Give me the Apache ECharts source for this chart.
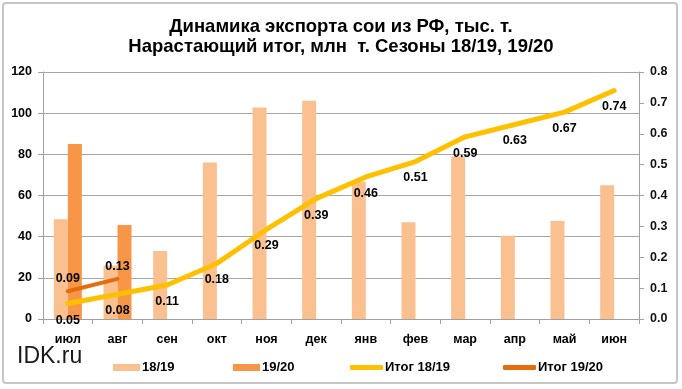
<!DOCTYPE html>
<html>
<head>
<meta charset="utf-8">
<script src="https://cdn.jsdelivr.net/npm/echarts@6/dist/echarts.min.js"></script>
<style>html,body{margin:0;padding:0;background:#fff;}#c{width:682px;height:389px;}</style>
</head>
<body>
<div id="c"></div>
<script>
var categories = ['июл','авг','сен','окт','ноя','дек','янв','фев','мар','апр','май','июн'];
var exp1819 = [48.5, 26, 33, 76, 102.7, 106, 66.7, 47, 79, 40.5, 47.6, 65];
var exp1920 = [85, 45.7, null, null, null, null, null, null, null, null, null, null];
var total1819 = [0.05, 0.08, 0.11, 0.18, 0.29, 0.39, 0.46, 0.51, 0.59, 0.63, 0.67, 0.74];
var total1920 = [0.09, 0.13, null, null, null, null, null, null, null, null, null, null];
var leftTicks = [0, 120, 20];
var rightTicks = [0, 0.8, 0.1];

var sans = "'Liberation Sans', Arial, sans-serif";
var chart = echarts.init(document.getElementById('c'));
function lg(name, left, icon, w, h) {
  return {
    data: [{name: name, icon: icon}], left: left, top: 356, itemWidth: w, itemHeight: h, itemGap: 0,
    textStyle: {fontFamily: sans, fontSize: 13, fontWeight: 'bold', color: '#000', padding: [0,0,0,-3]},
    selectedMode: false
  };
}
function fmt(p) { return p.value == null ? '' : p.value.toFixed(2); }
chart.setOption({
  animation: false,
  title: {
    text: 'Динамика экспорта сои из РФ, тыс. т.\nНарастающий итог, млн  т. Сезоны 18/19, 19/20',
    left: 'center', top: 12,
    textStyle: {fontFamily: sans, fontSize: 18.5, fontWeight: 'bold', color: '#000', lineHeight: 20}
  },
  graphic: [
    {type: 'rect', shape: {x: 3, y: 3, width: 674, height: 380, r: 3}, style: {fill: 'none', stroke: '#c6c6c6', lineWidth: 2}, silent: true},
    {type: 'text', left: 17, top: 345, style: {text: 'IDK.ru', fontFamily: sans, fontSize: 23, fill: '#1a1a1a'}}
  ],
  legend: [
    lg('18/19', 108, 'rect', 27, 7),
    lg('19/20', 228, 'rect', 27, 7),
    lg('Итог 18/19', 345, 'roundRect', 33, 5),
    lg('Итог 19/20', 498, 'roundRect', 33, 5)
  ],
  grid: {left: 43, right: 43, top: 72, bottom: 70},
  xAxis: {
    type: 'category', data: categories, boundaryGap: true,
    axisLine: {lineStyle: {color: '#a0a0a0', width: 1}},
    axisTick: {show: true, length: 5, lineStyle: {color: '#a0a0a0'}},
    axisLabel: {fontFamily: sans, fontSize: 12.5, fontWeight: 'bold', color: '#000', margin: 14}
  },
  yAxis: [
    {
      type: 'value', min: leftTicks[0], max: leftTicks[1], interval: leftTicks[2],
      axisLine: {show: true, lineStyle: {color: '#a0a0a0'}},
      axisTick: {show: true, length: 5, lineStyle: {color: '#a0a0a0'}},
      splitLine: {lineStyle: {color: '#a6a6a6', width: 1}},
      axisLabel: {fontFamily: sans, fontSize: 12.5, fontWeight: 'bold', color: '#000', margin: 11}
    },
    {
      type: 'value', min: rightTicks[0], max: rightTicks[1], interval: rightTicks[2], position: 'right',
      axisLine: {show: true, lineStyle: {color: '#a0a0a0'}},
      axisTick: {show: true, length: 5, lineStyle: {color: '#a0a0a0'}},
      splitLine: {show: false},
      axisLabel: {fontFamily: sans, fontSize: 12.5, fontWeight: 'bold', color: '#111', margin: 11,
        formatter: function (v) { return v.toFixed(1); }}
    }
  ],
  series: [
    {name: '18/19', type: 'bar', data: exp1819, barWidth: 14, barGap: '0%', itemStyle: {color: '#FAC090'}},
    {name: '19/20', type: 'bar', data: exp1920, barWidth: 14, barGap: '0%', itemStyle: {color: '#F79646'}},
    {name: 'Итог 18/19', type: 'line', yAxisIndex: 1, data: total1819, showSymbol: true, symbol: 'circle', symbolSize: 0.01,
      lineStyle: {color: '#FFC000', width: 5, cap: 'round', join: 'round'}, itemStyle: {color: '#FFC000'},
      label: {show: true, position: 'bottom', distance: 10, fontFamily: sans, fontSize: 12.5, fontWeight: 'bold', color: '#000', formatter: fmt},
      z: 5},
    {name: 'Итог 19/20', type: 'line', yAxisIndex: 1, data: total1920, showSymbol: true, symbol: 'circle', symbolSize: 0.01,
      lineStyle: {color: '#E46C0A', width: 4, cap: 'round', join: 'round'}, itemStyle: {color: '#E46C0A'},
      label: {show: true, position: 'top', distance: 6, fontFamily: sans, fontSize: 12.5, fontWeight: 'bold', color: '#000', formatter: fmt},
      z: 6}
  ]
});
</script>
</body>
</html>
